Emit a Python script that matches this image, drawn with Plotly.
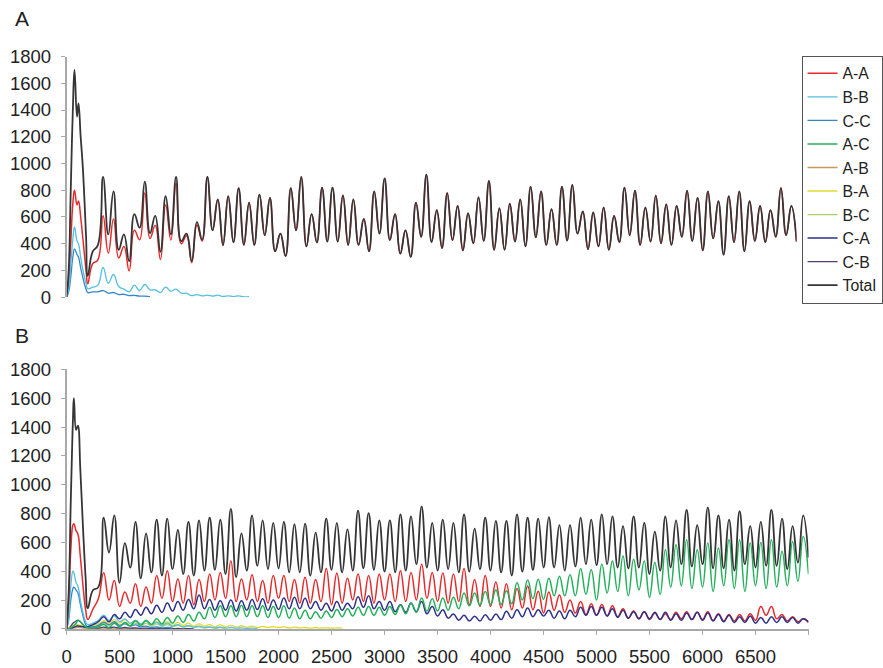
import plotly.graph_objects as go

# ---------------------------------------------------------------------------
# Time grids: a dense start-up section, then one trough per 100 time units
# (at 300, 400, ...) and one crest halfway between (350, 450, ...).
# ---------------------------------------------------------------------------
T_EARLY_A = [0, 20, 40, 60, 76, 100, 114, 135, 155, 187, 203, 250]
T_EARLY_B = [0, 20, 40, 60, 69, 90, 106, 130, 155, 180, 200, 250]
T_TROUGH = list(range(300, 7001, 100))
T_PEAK = list(range(350, 6951, 100))

SERIES_NAMES = ["A-A", "B-B", "C-C", "A-C", "A-B", "B-A", "B-C", "C-A", "C-B", "Total"]
Y_TICKS = [0, 200, 400, 600, 800, 1000, 1200, 1400, 1600, 1800]
X_TICKS = [0, 500, 1000, 1500, 2000, 2500, 3000, 3500, 4000, 4500, 5000, 5500, 6000, 6500, 7000]
X_TICK_TEXT = ["0", "500", "1000", "1500", "2000", "2500", "3000", "3500", "4000",
               "4500", "5000", "5500", "6000", "6500", ""]

# ------------------------------- Panel A ----------------------------------
A_TOTAL_EARLY = [0, 200, 800, 1400, 1700, 1350, 1450, 1200, 980, 450, 160, 340]
A_TOTAL_TROUGHS = [
    390, 470, 355, 270, 520, 480, 340, 470, 420, 270,
    430, 500, 390, 410, 391, 391, 464, 343, 307, 500,
    380, 409, 416, 416, 391, 391, 343, 476, 427, 326,
    302, 452, 412, 367, 427, 350, 403, 421, 355, 355,
    416, 380, 447, 391, 391, 423, 476, 360, 380, 355,
    412, 464, 391, 416, 403, 391, 452, 421, 350, 440,
    318, 412, 343, 421, 412, 452, 464, 416,
]
A_TOTAL_PEAKS = [
    900, 791, 470, 621, 864, 609, 755, 900, 476, 561,
    900, 731, 755, 816, 707, 767, 743, 476, 816, 900,
    622, 820, 820, 762, 731, 585, 791, 888, 622, 500,
    707, 917, 651, 779, 682, 627, 747, 869, 665, 699,
    731, 827, 791, 658, 827, 840, 641, 634, 670, 609,
    820, 796, 670, 760, 694, 682, 796, 743, 791, 718,
    755, 791, 718, 682, 651, 816, 682,
]

# A-A sits under the Total line once the other groups have died out (t >= 1350)
A_AA_EARLY = [0, 100, 400, 700, 800, 690, 720, 600, 450, 200, 100, 250]
A_AA_TROUGHS = [280, 330, 294, 198, 430, 440, 282, 428, 400, 258, 420] + A_TOTAL_TROUGHS[11:]
A_AA_PEAKS = [609, 585, 380, 500, 780, 536, 690, 852, 460, 540] + A_TOTAL_PEAKS[10:]

A_BB_EARLY = [0, 60, 250, 430, 525, 420, 400, 300, 210, 100, 64, 75]
A_BB_TROUGHS = [90, 105, 80, 40, 50, 55, 35, 45, 30, 12, 10, 8, 6, 5, 3]
A_BB_PEAKS = [222, 170, 60, 90, 95, 55, 75, 60, 30, 20, 15, 15, 10, 10, 5]

A_CC_EARLY = [0, 40, 150, 300, 360, 320, 300, 220, 150, 60, 35, 40]
A_CC_TROUGHS = [40, 30, 20, 12, 8, 5]
A_CC_PEAKS = [50, 35, 22, 14, 8]

# ------------------------------- Panel B ----------------------------------
B_TOTAL_EARLY = [0, 250, 900, 1450, 1600, 1380, 1410, 1100, 700, 350, 144, 270]
B_TOTAL_TROUGHS = [
    290, 530, 320, 426, 350, 392, 370, 415, 381, 370,
    404, 410, 381, 359, 404, 438, 415, 420, 392, 392,
    370, 392, 410, 392, 404, 420, 410, 397, 392, 404,
    449, 426, 404, 415, 392, 397, 415, 404, 392, 370,
    397, 410, 426, 426, 404, 433, 449, 442, 449, 426,
    420, 426, 381, 404, 426, 449, 433, 449, 420, 420,
    404, 449, 426, 438, 438, 415, 460, 494,
]
B_TOTAL_PEAKS = [
    771, 787, 595, 742, 663, 758, 765, 686, 742, 753,
    771, 758, 832, 663, 787, 753, 735, 742, 726, 731,
    668, 765, 735, 690, 821, 803, 753, 753, 794, 780,
    848, 735, 758, 735, 794, 696, 771, 749, 749, 794,
    771, 765, 776, 720, 720, 771, 758, 794, 780, 713,
    780, 735, 675, 780, 753, 826, 720, 843, 787, 758,
    816, 713, 742, 826, 765, 713, 787,
]

B_AA_EARLY = [0, 200, 550, 720, 730, 680, 660, 500, 300, 130, 66, 140]
B_AA_TROUGHS = [
    210, 201, 156, 179, 156, 179, 212, 190, 179, 167,
    190, 201, 212, 190, 201, 190, 179, 212, 190, 179,
    179, 190, 167, 179, 201, 190, 179, 201, 190, 190,
    201, 212, 190, 179, 190, 167, 156, 156, 145, 133,
    145, 133, 111, 130, 115, 110, 100, 95, 90, 85,
    75, 70, 65, 65, 65, 70, 65, 65, 60, 55,
    55, 55, 60, 95, 70, 55, 50, 45,
]
B_AA_PEAKS = [
    390, 336, 257, 313, 291, 370, 404, 347, 370, 343,
    381, 392, 471, 347, 375, 336, 370, 370, 343, 359,
    343, 420, 388, 352, 381, 370, 381, 381, 404, 392,
    449, 392, 388, 381, 420, 343, 370, 325, 313, 280,
    298, 262, 257, 235, 200, 190, 175, 170, 160, 140,
    125, 120, 110, 105, 115, 120, 115, 120, 105, 100,
    100, 105, 155, 155, 100, 85, 70,
]

B_AC_EARLY = [0, 2, 8, 20, 25, 40, 60, 50, 30, 15, 10, 10]
B_AC_TROUGHS = [
    15, 10, 15, 20, 25, 30, 35, 40, 45, 55,
    70, 80, 85, 85, 85, 85, 80, 80, 75, 70,
    70, 75, 80, 85, 90, 95, 95, 95, 100, 105,
    115, 125, 125, 130, 140, 160, 165, 170, 170, 175,
    200, 210, 205, 230, 230, 230, 240, 200, 250, 260,
    230, 270, 220, 240, 290, 300, 280, 290, 260, 300,
    280, 260, 300, 280, 290, 300, 330, 380,
]
B_AC_PEAKS = [
    30, 40, 45, 55, 60, 70, 80, 90, 100, 115,
    150, 160, 160, 165, 160, 160, 155, 160, 145, 130,
    120, 125, 135, 140, 150, 155, 150, 155, 165, 180,
    215, 210, 215, 220, 250, 250, 260, 270, 265, 320,
    340, 345, 352, 366, 375, 420, 410, 449, 472, 505,
    483, 472, 460, 550, 584, 618, 550, 596, 562, 618,
    618, 596, 600, 618, 539, 607, 641,
]

B_CA_EARLY = [0, 2, 5, 10, 12, 18, 20, 18, 15, 12, 15, 30]
B_CA_TROUGHS = [
    50, 50, 70, 80, 95, 105, 115, 125, 130, 140,
    140, 130, 130, 125, 130, 135, 130, 135, 140, 140,
    140, 130, 125, 130, 140, 150, 140, 130, 120, 115,
    120, 105, 90, 75, 60, 55, 55, 60, 65, 75,
    85, 85, 90, 75, 70, 85, 95, 95, 90, 80,
    75, 70, 70, 65, 60, 60, 65, 60, 55, 50,
    45, 45, 40, 40, 45, 45, 40, 50,
]
B_CA_PEAKS = [
    85, 100, 115, 135, 150, 165, 180, 190, 205, 235,
    205, 195, 200, 195, 205, 210, 200, 215, 220, 212,
    190, 179, 190, 179, 223, 230, 190, 190, 167, 179,
    190, 156, 133, 104, 95, 88, 99, 104, 122, 133,
    145, 133, 130, 125, 130, 150, 155, 150, 140, 130,
    120, 120, 115, 115, 105, 110, 115, 110, 100, 95,
    85, 90, 80, 85, 85, 80, 70,
]

B_BB_EARLY = [0, 80, 300, 400, 390, 320, 300, 200, 110, 50, 30, 40]
B_BB_TROUGHS = [60, 60, 50, 40, 35, 30, 25, 20, 15, 12, 10, 8, 6, 5, 4, 3]
B_BB_PEAKS = [95, 90, 70, 60, 55, 45, 40, 30, 25, 20, 15, 12, 10, 8, 5]

B_CC_EARLY = [0, 60, 200, 280, 290, 270, 250, 170, 90, 30, 15, 15]
B_CC_TROUGHS = [25, 30, 25, 20, 15, 10, 8, 5]
B_CC_PEAKS = [45, 50, 35, 28, 20, 15, 10]

B_BA_EARLY = [0, 5, 10, 20, 25, 30, 30, 25, 20, 15, 15, 25]
B_BA_TROUGHS = [35, 40, 40, 35, 35, 30, 30, 25, 25, 20, 20, 15, 15, 12, 12, 10,
                10, 10, 8, 8, 6, 6, 5, 5]
B_BA_PEAKS = [55, 65, 65, 60, 55, 50, 50, 45, 40, 35, 30, 28, 25, 22, 20, 18,
              16, 15, 12, 10, 10, 8, 7]

B_BC_EARLY = [0, 3, 8, 15, 18, 22, 25, 22, 18, 14, 12, 15]
B_BC_TROUGHS = [20, 25, 25, 25, 22, 20, 18, 15, 12, 10, 8, 6, 5]
B_BC_PEAKS = [40, 45, 45, 40, 38, 35, 30, 25, 20, 15, 12, 10]

B_CB_EARLY = [0, 5, 20, 40, 45, 55, 60, 50, 30, 15, 10, 8]
B_CB_TROUGHS = [6, 8, 6, 5, 4, 3, 2, 2, 1, 1]
B_CB_PEAKS = [12, 12, 10, 8, 6, 5, 4, 3, 2]

B_AB_EARLY = [0, 1, 3, 5, 6, 8, 10, 9, 7, 5, 4, 4]
B_AB_TROUGHS = [4, 4, 3, 3, 2, 2, 1, 1]
B_AB_PEAKS = [6, 6, 5, 4, 3, 2, 2]

COLORS = {
    "A-A": "#e62a2c",
    "B-B": "#55bfe0",
    "C-C": "#3486c8",
    "A-C": "#24b05c",
    "A-B": "#c69a5e",
    "B-A": "#e2d82e",
    "B-C": "#a8d06c",
    "C-A": "#2f3188",
    "C-B": "#4e3f72",
    "Total": "#353535",
}
WIDTHS = {"Total": 1.8, "A-A": 1.5, "A-C": 1.5, "C-A": 1.5}


def assemble(t_early, early, troughs, peaks):
    """Join the start-up section with alternating trough / crest samples."""
    xs, ys = list(t_early), list(early)
    for i, v in enumerate(troughs):
        xs.append(T_TROUGH[i])
        ys.append(v)
        if i < len(peaks):
            xs.append(T_PEAK[i])
            ys.append(peaks[i])
    return xs, ys


PANEL_A = [
    ("A-A", A_AA_EARLY, A_AA_TROUGHS, A_AA_PEAKS),
    ("C-C", A_CC_EARLY, A_CC_TROUGHS, A_CC_PEAKS),
    ("B-B", A_BB_EARLY, A_BB_TROUGHS, A_BB_PEAKS),
    ("Total", A_TOTAL_EARLY, A_TOTAL_TROUGHS, A_TOTAL_PEAKS),
]
PANEL_B = [
    ("A-B", B_AB_EARLY, B_AB_TROUGHS, B_AB_PEAKS),
    ("C-B", B_CB_EARLY, B_CB_TROUGHS, B_CB_PEAKS),
    ("B-C", B_BC_EARLY, B_BC_TROUGHS, B_BC_PEAKS),
    ("B-A", B_BA_EARLY, B_BA_TROUGHS, B_BA_PEAKS),
    ("C-C", B_CC_EARLY, B_CC_TROUGHS, B_CC_PEAKS),
    ("B-B", B_BB_EARLY, B_BB_TROUGHS, B_BB_PEAKS),
    ("A-A", B_AA_EARLY, B_AA_TROUGHS, B_AA_PEAKS),
    ("C-A", B_CA_EARLY, B_CA_TROUGHS, B_CA_PEAKS),
    ("A-C", B_AC_EARLY, B_AC_TROUGHS, B_AC_PEAKS),
    ("Total", B_TOTAL_EARLY, B_TOTAL_TROUGHS, B_TOTAL_PEAKS),
]

fig = go.Figure()

for name, early, troughs, peaks in PANEL_A:
    x, y = assemble(T_EARLY_A, early, troughs, peaks)
    fig.add_trace(go.Scatter(
        x=x, y=y, mode="lines", name=name, showlegend=False,
        line=dict(color=COLORS[name], width=WIDTHS.get(name, 1.3),
                  shape="spline", smoothing=1.3),
        xaxis="x", yaxis="y", hoverinfo="skip",
    ))

for name, early, troughs, peaks in PANEL_B:
    x, y = assemble(T_EARLY_B, early, troughs, peaks)
    fig.add_trace(go.Scatter(
        x=x, y=y, mode="lines", name=name, showlegend=True,
        legendrank=SERIES_NAMES.index(name) + 1,
        line=dict(color=COLORS[name], width=WIDTHS.get(name, 1.3),
                  shape="spline", smoothing=1.3),
        xaxis="x2", yaxis="y2", hoverinfo="skip",
    ))

W, H = 883, 668
AXIS_GREY = "#a9a9a9"
FONT = "Liberation Sans, Arial, Helvetica, sans-serif"

yaxis_common = dict(
    range=[0, 1800], tickvals=Y_TICKS, showgrid=False, zeroline=False,
    showline=True, linecolor=AXIS_GREY, linewidth=1.5,
    ticks="outside", ticklen=4, tickcolor=AXIS_GREY, tickwidth=1,
    tickfont=dict(size=18.5, color="#222222", family=FONT),
    ticklabelstandoff=6, fixedrange=True,
)

fig.update_layout(
    width=W, height=H,
    margin=dict(l=0, r=0, t=0, b=0),
    paper_bgcolor="white", plot_bgcolor="white",
    font=dict(family=FONT, size=17, color="#222222"),
    xaxis=dict(domain=[62 / W, 797 / W], range=[0, 7000], anchor="y",
               showline=False, showticklabels=False, ticks="",
               showgrid=False, zeroline=False, fixedrange=True),
    yaxis=dict(domain=[1 - 295.5 / H, 1 - 47 / H], anchor="x", **yaxis_common),
    xaxis2=dict(domain=[62 / W, 809 / W], range=[0, 7000], anchor="y2",
                tickvals=X_TICKS, ticktext=X_TICK_TEXT,
                showline=True, linecolor=AXIS_GREY, linewidth=1.5,
                ticks="outside", ticklen=4, tickcolor=AXIS_GREY, tickwidth=1,
                tickfont=dict(size=18.5, color="#222222", family=FONT),
                ticklabelstandoff=6,
                showgrid=False, zeroline=False, fixedrange=True),
    yaxis2=dict(domain=[1 - 638 / H, 1 - 370 / H], anchor="x2", **yaxis_common),
    legend=dict(
        x=802 / W, y=1 - 46 / H, xanchor="left", yanchor="top",
        bgcolor="white", bordercolor="#555555", borderwidth=1,
        font=dict(size=15.8, color="#222222", family=FONT),
        itemwidth=30, tracegroupgap=0, traceorder="normal",
    ),
    annotations=[
        dict(text="A", x=8 / W, y=1 - 22 / H, xref="paper", yref="paper",
             xanchor="left", yanchor="bottom", showarrow=False,
             font=dict(size=21, color="#222222", family=FONT)),
        dict(text="B", x=8 / W, y=1 - 349 / H, xref="paper", yref="paper",
             xanchor="left", yanchor="bottom", showarrow=False,
             font=dict(size=21, color="#222222", family=FONT)),
    ],
)

fig.write_html("out.html")
